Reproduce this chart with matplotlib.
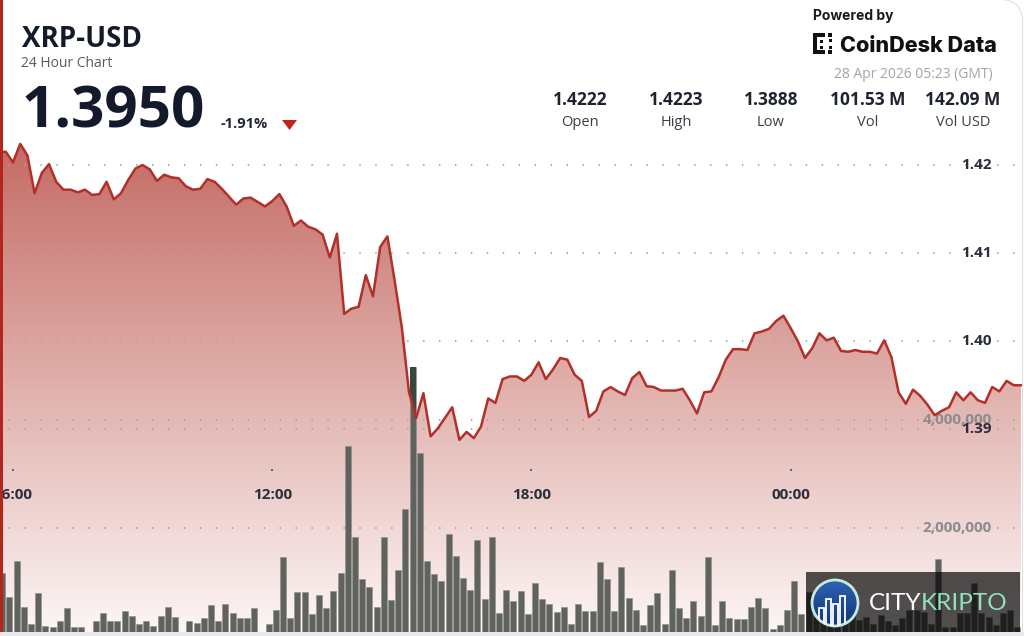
import numpy as np
import pandas as pd
import matplotlib
matplotlib.use("Agg")
import matplotlib.pyplot as plt
from matplotlib.patches import Polygon, Rectangle, Circle, Arc

plt.rcParams['font.family'] = ['Open Sans', 'DejaVu Sans']

# ---- data ----
symbol = 'XRP-USD'
subtitle = '24 Hour Chart'
last_price = '1.3950'
change_pct = '-1.91%'
stat_values = ['1.4222', '1.4223', '1.3888', '101.53 M', '142.09 M']
stat_labels = ['Open', 'High', 'Low', 'Vol', 'Vol USD']
timestamp = '28 Apr 2026 05:23 (GMT)'

# price every 10 minutes, starting 27 Apr 05:40
price = [
    1.4215, 1.4215, 1.4203, 1.4224, 1.4211, 1.4168, 1.4191, 1.4201, 1.4181, 1.4172,
    1.4172, 1.4169, 1.4172, 1.4166, 1.4167, 1.4181, 1.4161, 1.4168, 1.4183, 1.4196,
    1.4200, 1.4195, 1.4182, 1.4189, 1.4186, 1.4185, 1.4176, 1.4172, 1.4173, 1.4184,
    1.4181, 1.4173, 1.4164, 1.4155, 1.4162, 1.4163, 1.4158, 1.4153, 1.4159, 1.4167,
    1.4153, 1.4131, 1.4137, 1.4130, 1.4127, 1.4121, 1.4095, 1.4122, 1.4031, 1.4037,
    1.4039, 1.4075, 1.4051, 1.4107, 1.4119, 1.4069, 1.4016, 1.3942, 1.3913, 1.3941,
    1.3892, 1.3901, 1.3913, 1.3925, 1.3888, 1.3897, 1.3890, 1.3903, 1.3935, 1.3930,
    1.3957, 1.3960, 1.3960, 1.3955, 1.3962, 1.3976, 1.3957, 1.3968, 1.3981, 1.3979,
    1.3962, 1.3955, 1.3914, 1.3921, 1.3943, 1.3948, 1.3943, 1.3939, 1.3958, 1.3965,
    1.3949, 1.3948, 1.3944, 1.3944, 1.3944, 1.3946, 1.3933, 1.3918, 1.3942, 1.3943,
    1.3959, 1.3979, 1.3991, 1.3991, 1.3990, 1.4009, 1.4011, 1.4014, 1.4023, 1.4029,
    1.4015, 1.4000, 1.3981, 1.3992, 1.4009, 1.4001, 1.4004, 1.3989, 1.3988, 1.3990,
    1.3988, 1.3988, 1.3986, 1.4001, 1.3982, 1.3942, 1.3929, 1.3945, 1.3938, 1.3928,
    1.3916, 1.3921, 1.3925, 1.3942, 1.3933, 1.3942, 1.3933, 1.3930, 1.3948, 1.3943,
    1.3955, 1.3950, 1.3950,
]

# volume per 10 minutes, in millions
volume_m = [
    1.17, 0.73, 1.39, 0.54, 0.23, 0.79, 0.19, 0.17, 0.28, 0.51,
    0.17, 0.17, 0.05, 0.27, 0.43, 0.27, 0.27, 0.46, 0.37, 0.22,
    0.28, 0.19, 0.37, 0.54, 0.36, 0.05, 0.27, 0.25, 0.33, 0.57,
    0.27, 0.59, 0.42, 0.33, 0.33, 0.51, 0.07, 0.23, 0.49, 1.47,
    0.33, 0.82, 0.82, 0.41, 0.76, 0.51, 0.84, 1.16, 3.52, 1.83,
    1.06, 0.91, 0.54, 1.83, 0.67, 1.23, 2.35, 4.99, 3.39, 1.39,
    1.15, 1.01, 1.89, 1.49, 1.08, 0.85, 1.78, 0.68, 1.84, 0.43,
    0.85, 0.64, 0.84, 0.40, 0.98, 0.68, 0.59, 0.45, 0.53, 0.23,
    0.59, 0.46, 0.46, 1.37, 1.06, 0.47, 1.27, 0.70, 0.48, 0.20,
    0.57, 0.79, 0.23, 1.22, 0.51, 0.33, 0.64, 0.37, 1.46, 0.20,
    0.64, 0.34, 0.31, 0.31, 0.54, 0.70, 0.51, 0.13, 0.21, 0.48,
    1.02, 0.41, 0.81, 0.36, 0.54, 0.50, 0.40, 0.60, 0.40, 0.30,
    0.36, 0.23, 0.39, 0.27, 0.20, 0.33, 0.48, 0.48, 0.45, 0.23,
    1.43, 0.17, 0.17, 0.42, 0.42, 0.98, 0.42, 0.36, 0.20, 0.42,
    0.48, 0.17,
]

price_ticks = [1.42, 1.41, 1.40, 1.39]
price_tick_labels = ['1.42', '1.41', '1.40', '1.39']
volume_ticks = [2, 4]
volume_tick_labels = ['2,000,000', '4,000,000']
time_ticks = [6, 12, 18, 24]
time_tick_labels = ['06:00', '12:00', '18:00', '00:00']

# time in hours from 27 Apr 00:00
times = pd.date_range('2026-04-27 05:40', periods=len(price), freq='10min')
hours = ((times - pd.Timestamp('2026-04-27')).total_seconds() / 3600).to_numpy()
bar_hours = hours[:len(volume_m)] + 1 / 12

W, H = 1024, 636
fig = plt.figure(figsize=(W / 100, H / 100), dpi=100, facecolor='white')

ax_p = fig.add_axes([0, 0, 1, 1], label='fill')
ax_v = fig.add_axes([0, 0, 1, 1], label='vol')
ax_l = fig.add_axes([0, 0, 1, 1], label='line')
ax_o = fig.add_axes([0, 0, 1, 1], label='overlay')
for z, a in enumerate([ax_p, ax_v, ax_l, ax_o]):
    a.set_zorder(z)
    a.set_axis_off()

xlim = (5.6991, 29.4028)
ylim = (1.36654, 1.43873)
for a in (ax_p, ax_l):
    a.set_xlim(*xlim)
    a.set_ylim(*ylim)
ax_v.set_xlim(*xlim)
ax_v.set_ylim(0, 11.778)

# gradient area under the price line
top_c = np.array([196, 106, 99]) / 255
bot_c = np.array([253, 247, 246]) / 255
g = np.linspace(0, 1, 256)[:, None, None]
grad = top_c * (1 - g) + bot_c * g
im = ax_p.imshow(grad, extent=(xlim[0], xlim[1], ylim[0], 1.42284),
                 aspect='auto', origin='upper', zorder=1, interpolation='bilinear')
below = Polygon(list(zip(hours, price)) + [(hours[-1], ylim[0]), (hours[0], ylim[0])],
                closed=True, facecolor='none', edgecolor='none')
ax_p.add_patch(below)
im.set_clip_path(below)
ax_p.set_xlim(*xlim)
ax_p.set_ylim(*ylim)

grid_style = dict(color='#a6a6a6', lw=1.4, ls=(3.8, (0.7, 7.5)), zorder=2)
for p in price_ticks:
    ax_p.axhline(p, **grid_style)
for v in volume_ticks:
    ax_v.axhline(v, **grid_style)

# volume bars
ax_v.bar(bar_hours, volume_m, width=0.85 / 6, color='#5f625d',
         edgecolor='#8e908b', linewidth=0.4, zorder=3)
above = Polygon(list(zip(hours, price)) + [(hours[-1], ylim[1]), (hours[0], ylim[1])],
                closed=True, transform=ax_p.transData)
dark = ax_v.bar(bar_hours, volume_m, width=0.85 / 6, color='#3b4641', linewidth=0, zorder=4)
for b in dark:
    b.set_clip_path(above)

# price line
ax_l.plot(hours, price, color='#b3302a', lw=1.8, solid_joinstyle='round', zorder=5)

axis_c = '#2a2f3a'
for p, lab in zip(price_ticks, price_tick_labels):
    ax_l.text(992 / W, p, lab, transform=ax_l.get_yaxis_transform(), ha='right',
              va='center', fontsize=11, fontweight='bold', color=axis_c, zorder=6)
for v, lab in zip(volume_ticks, volume_tick_labels):
    ax_v.text(992 / W, v, lab, transform=ax_v.get_yaxis_transform(), ha='right',
              va='center', fontsize=11, fontweight='bold', color='#8c8c8c', zorder=6)
xt = ax_l.get_xaxis_transform()
ax_l.scatter(time_ticks, [1 - 470 / H] * len(time_ticks), s=1.5, color='#666666',
             marker='s', linewidths=0, transform=xt, zorder=6)
for t, lab in zip(time_ticks, time_tick_labels):
    ax_l.text(t, 1 - 495 / H, lab, transform=xt, ha='center', va='center',
              fontsize=11, fontweight='bold', color=axis_c, zorder=6)

# ---- header (pixel coordinates, y down) ----
ax_o.set_xlim(0, W)
ax_o.set_ylim(H, 0)
ax_o.text(22, 47, symbol, fontsize=20, fontweight='bold', color='#141b2b', va='baseline')
ax_o.text(21, 67, subtitle, fontsize=10, color='#555b63', va='baseline')
ax_o.text(22, 128, last_price, fontsize=42, fontweight='bold', color='#131a2b', va='baseline')
ax_o.text(221, 128, change_pct, fontsize=10.5, fontweight='bold', color='#1e2533', va='baseline')
ax_o.add_patch(Polygon([(282, 120), (297, 120), (289.5, 130)], closed=True,
                       facecolor='#c1241b', edgecolor='none'))

stat_x = [580, 676, 771, 868, 963]
for x, val, lab in zip(stat_x, stat_values, stat_labels):
    ax_o.text(x, 105, val, ha='center', va='baseline', fontsize=12.5,
              fontweight='bold', color='#1d2330')
    ax_o.text(x, 126, lab, ha='center', va='baseline', fontsize=10.5, color='#3a3f47')

ax_o.text(813, 20, 'Powered by', fontsize=10, fontweight='bold', color='#1a1a1a',
          va='baseline', family=['Inter', 'DejaVu Sans'])
ax_o.text(840, 52, 'CoinDesk Data', fontsize=15.5, fontweight='heavy', color='#111111',
          va='baseline', family=['Inter', 'DejaVu Sans'])
for r in [(813, 33, 4, 21), (813, 33, 12, 4), (813, 50, 12, 4),
          (820, 40, 3, 3), (820, 46, 3, 3), (829, 39, 3, 3), (829, 46, 3, 3),
          (828, 33, 4, 4), (828, 50, 4, 4)]:
    ax_o.add_patch(Rectangle(r[:2], r[2], r[3], facecolor='#111111', edgecolor='none'))
ax_o.text(993, 78, timestamp, ha='right', va='baseline', fontsize=10, color='#a3a3a3')

# frame bits
ax_o.add_patch(Rectangle((0, 0), 2.5, H, facecolor='#b3261e', edgecolor='none'))
ax_o.add_patch(Rectangle((1021.5, 17), 3, 615, facecolor='white', edgecolor='none'))
ax_o.plot([1021.5, 1021.5], [17, 632], color='#e0e0e0', lw=0.8)
ax_o.add_patch(Arc((1004.5, 17), 34, 34, theta1=270, theta2=360, color='#e0e0e0', lw=0.8))
ax_o.add_patch(Rectangle((0, 632), W, 4, facecolor='#e8e8ed', edgecolor='none'))

# watermark
ax_o.add_patch(Rectangle((806, 572), 214, 60, facecolor='black', alpha=0.68, edgecolor='none'))
cg = np.linspace(0, 1, 64)[:, None, None]
cgrad = np.array([46, 100, 184]) / 255 * (1 - cg) + np.array([16, 52, 112]) / 255 * cg
cim = ax_o.imshow(cgrad, extent=(811, 859, 627, 579), aspect='auto', origin='upper', zorder=3)
disc = Circle((835, 603), 23, facecolor='none', edgecolor='#c6eadc', lw=2, zorder=4)
ax_o.add_patch(disc)
cim.set_clip_path(disc)
for bx, by in [(819, 608), (826, 599), (833, 604), (840, 596)]:
    icon_bar = Rectangle((bx, by), 5, 627 - by, facecolor='none', edgecolor='white', lw=1.3, zorder=5)
    ax_o.add_patch(icon_bar)
    icon_bar.set_clip_path(disc)

ax_o.text(869, 610, 'CITY', fontsize=17.5, color='white', va='baseline',
          family=['Lato', 'DejaVu Sans'], zorder=6)
ax_o.text(921, 610, 'KRIPTO', fontsize=17.5, color='#8fe2bf', va='baseline',
          family=['Lato', 'DejaVu Sans'], zorder=6)
ax_o.set_xlim(0, W)
ax_o.set_ylim(H, 0)

fig.savefig('out.png', dpi=100, facecolor='white')
